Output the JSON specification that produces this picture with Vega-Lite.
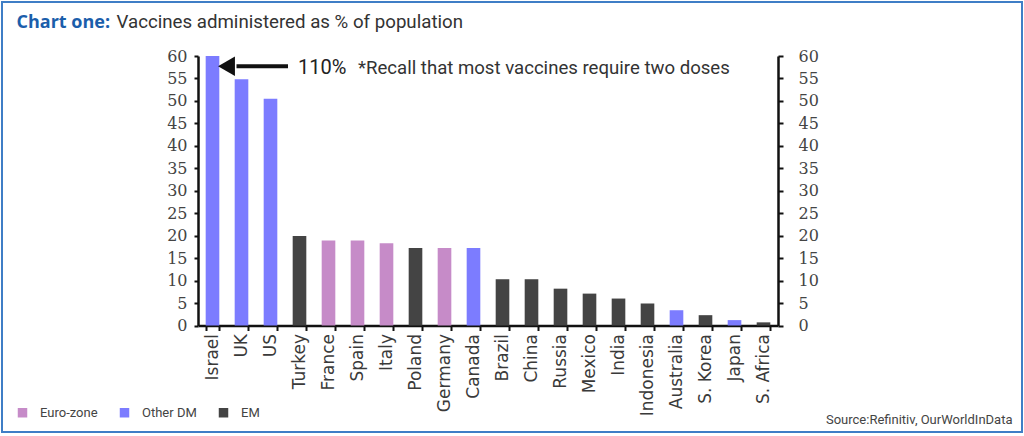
{
  "$schema": "https://vega.github.io/schema/vega-lite/v6.json",
  "width": 1020,
  "height": 430,
  "autosize": {"type": "none"},
  "padding": {"left": 2, "top": 2, "right": 2, "bottom": 4},
  "background": "white",
  "config": {
    "view": {"stroke": "#3f7ec6", "strokeWidth": 2},
    "axis": {"grid": false}
  },
  "datasets": {
    "bars": [
      {"country": "Israel", "group": "Other DM", "value": 110},
      {"country": "UK", "group": "Other DM", "value": 54.8},
      {"country": "US", "group": "Other DM", "value": 50.5},
      {"country": "Turkey", "group": "EM", "value": 19.9},
      {"country": "France", "group": "Euro-zone", "value": 18.9},
      {"country": "Spain", "group": "Euro-zone", "value": 18.9},
      {"country": "Italy", "group": "Euro-zone", "value": 18.3},
      {"country": "Poland", "group": "EM", "value": 17.25},
      {"country": "Germany", "group": "Euro-zone", "value": 17.25},
      {"country": "Canada", "group": "Other DM", "value": 17.25},
      {"country": "Brazil", "group": "EM", "value": 10.3},
      {"country": "China", "group": "EM", "value": 10.3},
      {"country": "Russia", "group": "EM", "value": 8.2},
      {"country": "Mexico", "group": "EM", "value": 7.1},
      {"country": "India", "group": "EM", "value": 6.0},
      {"country": "Indonesia", "group": "EM", "value": 4.9},
      {"country": "Australia", "group": "Other DM", "value": 3.4},
      {"country": "S. Korea", "group": "EM", "value": 2.3},
      {"country": "Japan", "group": "Other DM", "value": 1.2},
      {"country": "S. Africa", "group": "EM", "value": 0.7}
    ],
    "arrow": [{"country": "Israel", "to": "US", "y": 57.7}],
    "notes": [
      {"country": "Turkey", "y": 57.7, "label": "110%", "kind": "big"},
      {"country": "Spain", "y": 57.7, "label": "*Recall that most vaccines require two doses", "kind": "small"}
    ]
  },
  "layer": [
    {
      "data": {"name": "bars"},
      "mark": {"type": "bar"},
      "encoding": {
        "x": {
          "field": "country", "type": "nominal", "sort": null,
          "scale": {"range": [196, 776], "paddingInner": 0.53, "paddingOuter": 0.265},
          "axis": {
            "orient": "bottom", "offset": -106.5,
            "domainColor": "#111", "domainWidth": 2.5,
            "tickBand": "extent", "tickColor": "#111", "tickWidth": 2, "tickSize": 5,
            "labelAngle": -90, "labelFont": "DejaVu Sans", "labelFontSize": 17,
            "labelColor": "#3a3a3a", "labelPadding": 3,
            "title": "Source:Refinitiv, OurWorldInData",
            "titleFont": "Roboto", "titleFontSize": 13, "titleFontWeight": "normal",
            "titleColor": "#444", "titleAngle": 0, "titleAlign": "right",
            "titleBaseline": "alphabetic", "titleX": 1010, "titleY": 98, "titleLimit": 2000
          }
        },
        "y": {
          "field": "value", "type": "quantitative",
          "scale": {"domain": [0, 60], "range": [323.5, 54], "clamp": true, "nice": false, "zero": true},
          "axis": {
            "orient": "left", "offset": -196,
            "values": [0, 5, 10, 15, 20, 25, 30, 35, 40, 45, 50, 55, 60],
            "domainColor": "#111", "domainWidth": 2.5,
            "tickColor": "#111", "tickWidth": 2, "tickSize": 4,
            "labelFont": "DejaVu Serif", "labelFontSize": 16, "labelColor": "#444",
            "labelPadding": 7,
            "title": "Vaccines administered as % of population",
            "titleFont": "Roboto", "titleFontSize": 18.7, "titleFontWeight": "normal",
            "titleColor": "#333", "titleAngle": 0, "titleAlign": "left",
            "titleBaseline": "alphabetic", "titleX": -82, "titleY": 25, "titleLimit": 2000
          }
        },
        "color": {
          "field": "group", "type": "nominal",
          "scale": {"domain": ["Euro-zone", "Other DM", "EM"], "range": ["#c68bc8", "#7c7cff", "#444444"]},
          "legend": {
            "title": null, "orient": "none", "direction": "horizontal",
            "legendX": 14, "legendY": 404,
            "symbolType": "square", "symbolSize": 90, "symbolStrokeWidth": 0,
            "labelFont": "Roboto", "labelFontSize": 13, "labelColor": "#444",
            "labelOffset": 11, "columnPadding": 20, "padding": 0
          }
        }
      }
    },
    {
      "data": {"name": "arrow"},
      "mark": {"type": "rule", "color": "#111", "strokeWidth": 4, "xOffset": 24, "x2Offset": 17.5},
      "encoding": {
        "x": {"field": "country", "type": "nominal", "sort": null},
        "x2": {"field": "to"},
        "y": {
          "field": "y", "type": "quantitative",
          "axis": {
            "orient": "right", "offset": -244,
            "values": [0, 5, 10, 15, 20, 25, 30, 35, 40, 45, 50, 55, 60],
            "domainColor": "#111", "domainWidth": 2.5,
            "tickColor": "#111", "tickWidth": 2, "tickSize": 5,
            "labelFont": "DejaVu Serif", "labelFontSize": 16, "labelColor": "#444",
            "labelPadding": 15,
            "title": "Chart one:",
            "titleFont": "Open Sans", "titleFontSize": 18, "titleFontWeight": "bold",
            "titleColor": "#1b5eab", "titleAngle": 0, "titleAlign": "left",
            "titleBaseline": "alphabetic", "titleX": -762, "titleY": 25, "titleLimit": 2000
          }
        }
      }
    },
    {
      "data": {"name": "arrow"},
      "mark": {"type": "point", "shape": "triangle-left", "filled": true, "color": "#111", "opacity": 1, "size": 380, "xOffset": 14},
      "encoding": {
        "x": {"field": "country", "type": "nominal", "sort": null},
        "y": {"field": "y", "type": "quantitative", "axis": null}
      }
    },
    {
      "data": {"name": "notes"},
      "transform": [{"filter": "datum.kind === 'big'"}],
      "mark": {"type": "text", "align": "left", "baseline": "middle", "font": "Roboto", "fontSize": 20, "color": "#222", "xOffset": -1.5, "dy": 2},
      "encoding": {
        "x": {"field": "country", "type": "nominal", "sort": null},
        "y": {"field": "y", "type": "quantitative", "axis": null},
        "text": {"field": "label"}
      }
    },
    {
      "data": {"name": "notes"},
      "transform": [{"filter": "datum.kind === 'small'"}],
      "mark": {"type": "text", "align": "left", "baseline": "middle", "font": "Roboto", "fontSize": 18.6, "color": "#333", "xOffset": 0.5, "dy": 2},
      "encoding": {
        "x": {"field": "country", "type": "nominal", "sort": null},
        "y": {"field": "y", "type": "quantitative", "axis": null},
        "text": {"field": "label"}
      }
    }
  ],
  "resolve": {"axis": {"y": "independent"}}
}
